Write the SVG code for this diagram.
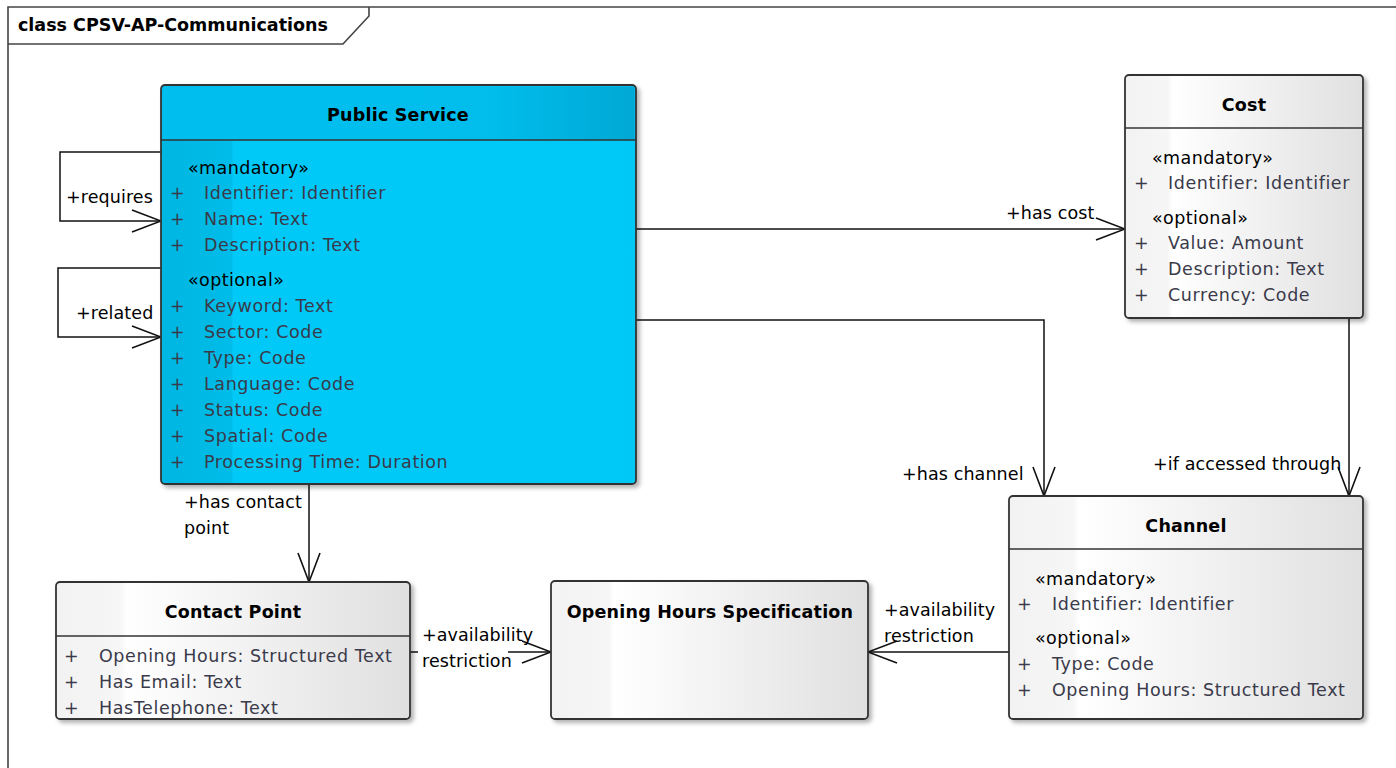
<svg xmlns="http://www.w3.org/2000/svg" width="1396" height="768" viewBox="0 0 1396 768">
<defs>
<style>
text{font-family:"DejaVu Sans","Liberation Sans",sans-serif;font-size:17.5px;fill:#000}
.t{font-weight:bold;text-anchor:middle;letter-spacing:0.2px}
.st{letter-spacing:0.4px}
.a{fill:#3a3a4a;letter-spacing:0.6px}
.lb{letter-spacing:0.1px}
.box{stroke:#333;stroke-width:1.8;filter:url(#sh)}
.sep{stroke:#333;stroke-width:1.6}
.c{fill:none;stroke:#111;stroke-width:1.5}
.ca{fill:none;stroke:#111;stroke-width:1.5;marker-end:url(#open)}
</style>
<filter id="sh" x="-5%" y="-5%" width="115%" height="115%">
<feDropShadow dx="3" dy="3" stdDeviation="2" flood-color="#000" flood-opacity="0.3"/>
</filter>
<linearGradient id="gray" x1="0" y1="0" x2="1" y2="0">
<stop offset="0" stop-color="#f2f2f2"/>
<stop offset="0.18" stop-color="#f6f6f6"/>
<stop offset="0.2" stop-color="#ffffff"/>
<stop offset="1" stop-color="#e0e0e0"/>
</linearGradient>
<linearGradient id="blue" x1="0" y1="0" x2="1" y2="0">
<stop offset="0" stop-color="#00b6e2"/>
<stop offset="0.15" stop-color="#00bce8"/>
<stop offset="0.151" stop-color="#00c9f8"/>
<stop offset="1" stop-color="#00c8f6"/>
</linearGradient>
<linearGradient id="blueh" x1="0" y1="0" x2="1" y2="0">
<stop offset="0" stop-color="#00bfee"/>
<stop offset="0.7" stop-color="#00bdec"/>
<stop offset="1" stop-color="#00a8d4"/>
</linearGradient>
<marker id="open" viewBox="-32 -14 34 28" refX="0" refY="0" markerWidth="34" markerHeight="28" markerUnits="userSpaceOnUse" orient="auto">
<path d="M-29,-11 L0,0 L-29,11" fill="none" stroke="#111" stroke-width="1.6"/>
</marker>
</defs>
<rect width="1396" height="768" fill="#fff"/>

<g id="frame">
<path d="M8,768 V7 H1396" fill="none" stroke="#444" stroke-width="1.6"/>
<path d="M8,44 H343 L369,16 V7" fill="none" stroke="#444" stroke-width="1.6"/>
<text x="18" y="31" style="font-weight:bold">class CPSV-AP-Communications</text>
</g>

<g id="connectors">
<path class="ca" d="M161,152 H60 V221 H161"/>
<text class="lb" x="66" y="203">+requires</text>
<path class="ca" d="M161,268 H58 V337 H161"/>
<text class="lb" x="76" y="319">+related</text>
<path class="ca" d="M636,229 H1125"/>
<text class="lb" x="1006" y="219">+has cost</text>
<path class="ca" d="M636,320 H1044 V496"/>
<text class="lb" x="902" y="480">+has channel</text>
<path class="ca" d="M1349,318 V496"/>
<text class="lb" x="1153" y="470">+if accessed through</text>
<path class="ca" d="M309,484 V582"/>
<text class="lb" x="184" y="508">+has contact</text>
<text class="lb" x="184" y="534">point</text>
<path class="c" d="M410,652 H418"/>
<path class="ca" d="M508,652 H551"/>
<text class="lb" x="422" y="641">+availability</text>
<text class="lb" x="422" y="667">restriction</text>
<path class="ca" d="M1009,652 H868"/>
<text class="lb" x="884" y="616">+availability</text>
<text class="lb" x="884" y="642">restriction</text>
</g>

<g id="public-service">
<rect class="box" x="161" y="85" width="475" height="399" rx="4" fill="url(#blue)"/>
<path d="M162.5,140 V89 Q162.5,86.5 165,86.5 H632 Q634.5,86.5 634.5,89 V140 Z" fill="url(#blueh)"/>
<line class="sep" x1="161" y1="140" x2="636" y2="140"/>
<text class="t" x="398" y="121">Public Service</text>
<text class="st" x="188" y="174">«mandatory»</text>
<text class="a" x="170" y="199">+</text><text class="a" x="204" y="199">Identifier: Identifier</text>
<text class="a" x="170" y="225">+</text><text class="a" x="204" y="225">Name: Text</text>
<text class="a" x="170" y="251">+</text><text class="a" x="204" y="251">Description: Text</text>
<text class="st" x="188" y="286">«optional»</text>
<text class="a" x="170" y="312">+</text><text class="a" x="204" y="312">Keyword: Text</text>
<text class="a" x="170" y="338">+</text><text class="a" x="204" y="338">Sector: Code</text>
<text class="a" x="170" y="364">+</text><text class="a" x="204" y="364">Type: Code</text>
<text class="a" x="170" y="390">+</text><text class="a" x="204" y="390">Language: Code</text>
<text class="a" x="170" y="416">+</text><text class="a" x="204" y="416">Status: Code</text>
<text class="a" x="170" y="442">+</text><text class="a" x="204" y="442">Spatial: Code</text>
<text class="a" x="170" y="468">+</text><text class="a" x="204" y="468">Processing Time: Duration</text>
</g>

<g id="cost">
<rect class="box" x="1125" y="75" width="238" height="243" rx="4" fill="url(#gray)"/>
<line class="sep" x1="1125" y1="128" x2="1363" y2="128"/>
<text class="t" x="1244" y="111">Cost</text>
<text class="st" x="1152" y="164">«mandatory»</text>
<text class="a" x="1134" y="189">+</text><text class="a" x="1168" y="189">Identifier: Identifier</text>
<text class="st" x="1152" y="224">«optional»</text>
<text class="a" x="1134" y="249">+</text><text class="a" x="1168" y="249">Value: Amount</text>
<text class="a" x="1134" y="275">+</text><text class="a" x="1168" y="275">Description: Text</text>
<text class="a" x="1134" y="301">+</text><text class="a" x="1168" y="301">Currency: Code</text>
</g>

<g id="channel">
<rect class="box" x="1009" y="496" width="354" height="223" rx="4" fill="url(#gray)"/>
<line class="sep" x1="1009" y1="549" x2="1363" y2="549"/>
<text class="t" x="1186" y="532">Channel</text>
<text class="st" x="1035" y="585">«mandatory»</text>
<text class="a" x="1017" y="610">+</text><text class="a" x="1052" y="610">Identifier: Identifier</text>
<text class="st" x="1035" y="644">«optional»</text>
<text class="a" x="1017" y="670">+</text><text class="a" x="1052" y="670">Type: Code</text>
<text class="a" x="1017" y="696">+</text><text class="a" x="1052" y="696">Opening Hours: Structured Text</text>
</g>

<g id="contact-point">
<rect class="box" x="56" y="582" width="354" height="137" rx="4" fill="url(#gray)"/>
<line class="sep" x1="56" y1="636" x2="410" y2="636"/>
<text class="t" x="233" y="618">Contact Point</text>
<text class="a" x="64" y="662">+</text><text class="a" x="99" y="662">Opening Hours: Structured Text</text>
<text class="a" x="64" y="688">+</text><text class="a" x="99" y="688">Has Email: Text</text>
<text class="a" x="64" y="714">+</text><text class="a" x="99" y="714">HasTelephone: Text</text>
</g>

<g id="opening-hours-specification">
<rect class="box" x="551" y="581" width="317" height="138" rx="4" fill="url(#gray)"/>
<text class="t" x="710" y="618">Opening Hours  Specification</text>
</g>
</svg>
